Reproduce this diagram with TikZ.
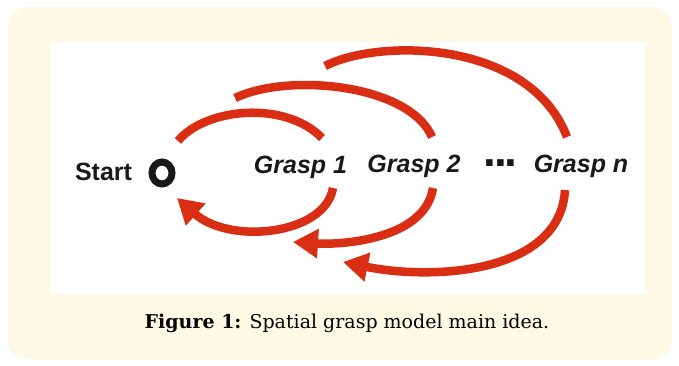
\documentclass[tikz,border=0pt]{standalone}
\usepackage{fontspec}
\usetikzlibrary{arrows.meta,shapes.geometric}
\newfontfamily\labfont{Liberation Sans}
\newfontfamily\capfont{DejaVu Serif}
\definecolor{cream}{RGB}{254,249,229}
\definecolor{arcred}{RGB}{218,46,20}
\definecolor{ink}{RGB}{25,25,25}
\begin{document}
\begin{tikzpicture}[x=1pt,y=-1pt,
  lab/.style={font=\labfont\fontsize{25}{25}\selectfont\bfseries, text=ink, inner sep=0pt, anchor=base},
  grasp/.style={lab, font=\labfont\fontsize{25}{25}\selectfont\bfseries\itshape},
  loop/.style={draw=arcred, line width=8.5pt},
  back/.style={loop, -{Triangle[length=25pt,width=28pt]}},
]
\useasboundingbox (0,0) rectangle (679,366);
% page, cream panel and white drawing area
\fill[white] (0,0) rectangle (679,366);
\fill[cream, rounded corners=20pt] (8,7) rectangle (672,359);
\fill[white] (50,42) rectangle (645,294);

% states
\node[lab] (start) at (103.5,180) {Start};
\node[draw=ink, ellipse, line width=7pt, minimum width=20pt, minimum height=22pt, inner sep=0pt] (ring) at (162,173) {};
\node[grasp] (g1) at (300.5,173) {Grasp 1};
\node[grasp] (g2) at (414,172) {Grasp 2};
\node[lab, font=\labfont\fontsize{46}{46}\selectfont\bfseries] (dots) at (500.5,167) {.\kern-2pt.\kern-2pt.};
\node[grasp] (gn) at (581,172) {Grasp n};

% arc end points
\coordinate (a1s) at (178,141);
\coordinate (a1e) at (322,138);
\coordinate (a2s) at (235,98);
\coordinate (a2e) at (432,137);
\coordinate (a3s) at (325,66);
\coordinate (a3e) at (567,137);
\coordinate (b1s) at (333,188);
\coordinate (b1e) at (177,198);
\coordinate (b2s) at (433,188);
\coordinate (b2e) at (293,242);
\coordinate (b3s) at (565,190);
\coordinate (b3e) at (343,262);

% forward arcs over the labels
\draw[loop] (a1s) .. controls (205,108) and (285,100) .. (a1e);
\draw[loop] (a2s) .. controls (290,72) and (410,85) .. (a2e);
\draw[loop] (a3s) .. controls (380,38) and (530,40) .. (a3e);

% return arcs under the labels
\draw[back] (b1s) .. controls (325,235) and (230,245) .. (b1e);
\draw[back] (b2s) .. controls (425,240) and (340,245) .. (b2e);
\draw[back] (b3s) .. controls (560,275) and (430,280) .. (b3e);

% caption
\node[font=\capfont\fontsize{19}{19}\selectfont, text=black, anchor=base, inner sep=0pt] (cap) at (347,328) {\textbf{Figure 1:} Spatial grasp model main idea.};
\end{tikzpicture}
\end{document}
